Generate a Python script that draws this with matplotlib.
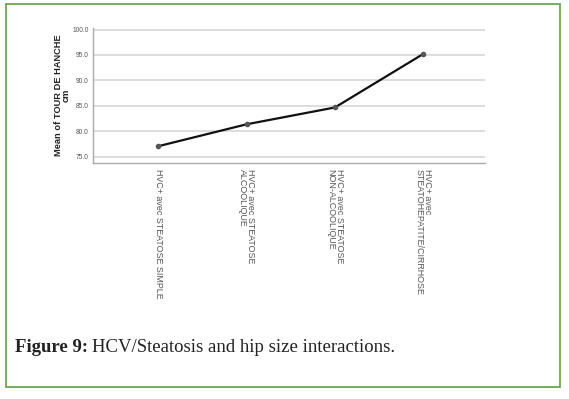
#!/usr/bin/env python3

import matplotlib
matplotlib.use("Agg")
import matplotlib.pyplot as plt
from matplotlib.patches import Rectangle


groups = ["HVC+ avec STEATOSE SIMPLE",
          "HVC+ avec STEATOSE\nALCOOLIQUE",
          "HVC+ avec STEATOSE\nNON-ALCOOLIQUE",
          "HVC+ avec\nSTEATOHEPATITE/CIRRHOSE"]
hip_means = [77.1, 81.4, 84.7, 95.2]
y_ticks = [75.0, 80.0, 85.0, 90.0, 95.0, 100.0]


def plot_hip_size():
    W, H = 569, 399
    plt.rcParams["font.family"] = ["Liberation Sans", "DejaVu Sans"]
    fig = plt.figure(figsize=(W / 100, H / 100), dpi=100)

    # green frame around the figure + caption
    fig.patches.append(Rectangle((6 / W, 1 - 387 / H), 554 / W, 383 / H,
                                 transform=fig.transFigure, fill=False,
                                 edgecolor="#6aa84f", linewidth=1.3))

    ax = fig.add_axes([93 / W, 1 - 163 / H, 392 / W, 135 / H])
    x = list(range(len(groups)))
    ax.plot(x, hip_means, "-", color="#111111", linewidth=1.6, zorder=3)
    ax.plot(x, hip_means, "o", color="#555555", markersize=3, zorder=4)

    ax.set_xlim(-0.74, 3.70)
    ax.set_ylim(73.8, 100.3)
    ax.set_yticks(y_ticks)
    ax.set_yticklabels(["%.1f" % v for v in y_ticks], fontsize=4.8, color="#555555")
    ax.set_xticks(x)
    ax.set_xticklabels(groups, rotation=-90, fontsize=6.4, color="#555555",
                       va="top", ha="center", multialignment="left",
                       linespacing=0.9)
    ax.tick_params(axis="both", length=0, pad=4)
    ax.tick_params(axis="y", pad=3)

    ax.grid(True, axis="y", color="#dddddd", linewidth=1.4, zorder=0)
    ax.set_axisbelow(True)
    for s in ["top", "right"]:
        ax.spines[s].set_visible(False)
    for s in ["left", "bottom"]:
        ax.spines[s].set_color("#aaaaaa")
        ax.spines[s].set_linewidth(1.0)

    ax.set_ylabel("Mean of TOUR DE HANCHE\ncm", fontsize=6.7, fontweight="bold",
                  color="#222222", linespacing=0.9, labelpad=1)

    # caption
    t1 = fig.text(15 / W, 1 - 348 / H, "Figure 9:", fontsize=13.5, fontweight="bold",
                  family="Liberation Serif", va="center", ha="left", color="#222222")
    fig.canvas.draw()
    bb = t1.get_window_extent()
    fig.text((bb.x1 + 4) / W, 1 - 348 / H, "HCV/Steatosis and hip size interactions.",
             fontsize=13.5, family="Liberation Serif", va="center", ha="left",
             color="#222222")

    fig.savefig("out.png", dpi=100)


def main():
    plot_hip_size()
    return 0


if __name__ == '__main__':
    main()
